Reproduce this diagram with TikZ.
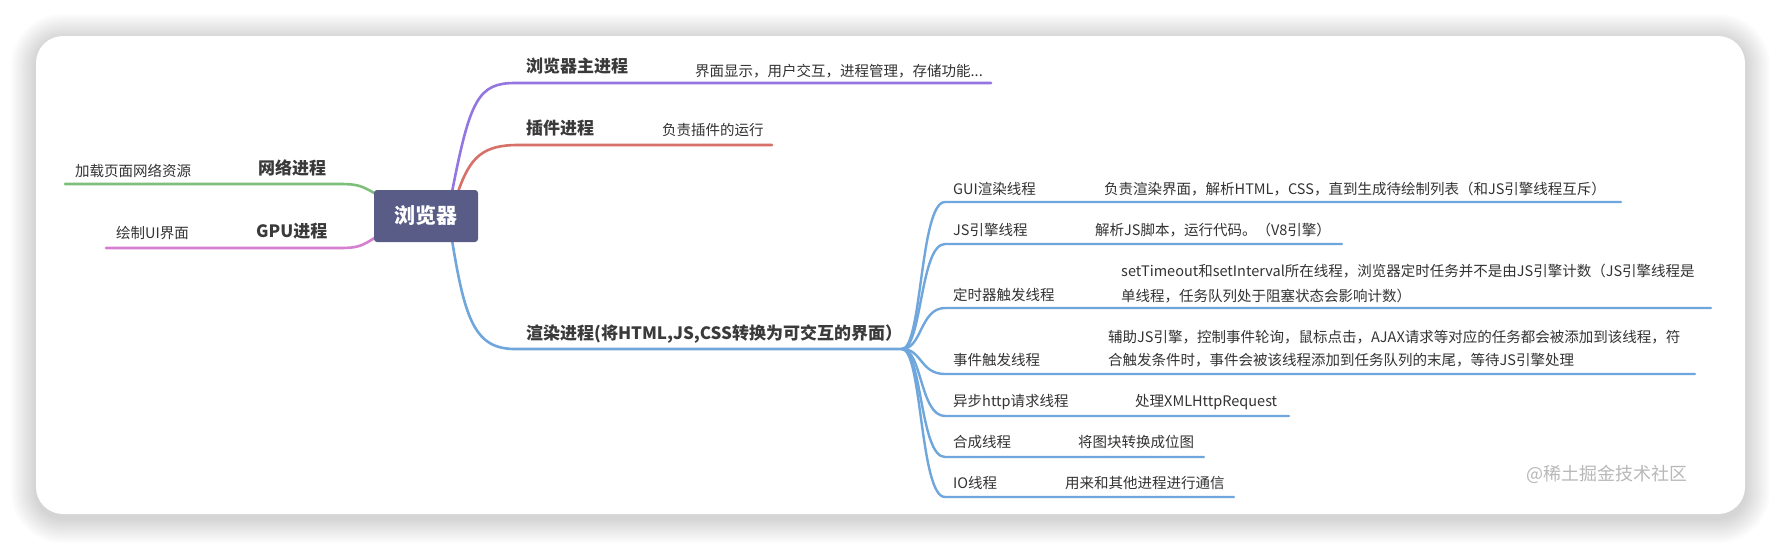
\documentclass[tikz,border=0pt]{standalone}
\usepackage{fontspec}
\setmainfont{Noto Sans CJK SC}
\definecolor{cpurple}{HTML}{9376E2}
\definecolor{cred}{HTML}{D67068}
\definecolor{cgreen}{HTML}{7DC07A}
\definecolor{cpink}{HTML}{D67FD0}
\definecolor{cblue}{HTML}{6FA6DC}
\definecolor{rootfill}{HTML}{585C87}
\definecolor{txtdark}{HTML}{333333}
\definecolor{mainlbltxt}{HTML}{3A3A3A}
\definecolor{wmark}{HTML}{B8B8B8}
\begin{document}
\begin{tikzpicture}[x=1pt,y=-1pt,
  mainlbl/.style={anchor=base west, inner sep=0pt, font=\fontsize{17}{20}\selectfont\bfseries, text=mainlbltxt},
  desc/.style={anchor=base west, inner sep=0pt, font=\fontsize{14.5}{18}\selectfont, text=txtdark},
  rootnode/.style={fill=rootfill, rounded corners=3pt, minimum width=104pt, minimum height=52pt, inner sep=0pt, text=white, font=\fontsize{21}{24}\selectfont\bfseries},
  branch/.style={line width=2.6pt, line cap=round},
  sub/.style={line width=2.4pt, line cap=round, cblue}]
\useasboundingbox (0,0) rectangle (1782,550);
\fill[white] (0,0) rectangle (1782,550);
% shadow
\foreach \i in {1,...,14}{
  \pgfmathsetmacro{\r}{27+\i*1.8}
  \fill[black, opacity=0.012, rounded corners=\r pt] (36-\i*1.8, 39-\i*1.8) rectangle (1745+\i*1.8, 518+\i*1.8);
}
\fill[white, rounded corners=27pt] (36,36) rectangle (1745,514);

% coordinates
\coordinate (pm-s) at (452,192); \coordinate (pm-a) at (515,83);  \coordinate (pm-e) at (991,83);
\coordinate (pl-s) at (458,192); \coordinate (pl-a) at (518,145); \coordinate (pl-e) at (772,145);
\coordinate (nw-s) at (376,194); \coordinate (nw-a) at (340,184); \coordinate (nw-e) at (65,184);
\coordinate (gp-s) at (376,237); \coordinate (gp-a) at (340,248); \coordinate (gp-e) at (106,248);
\coordinate (rd-s) at (452,240); \coordinate (rd-a) at (515,349); \coordinate (hub) at (902,349);
\coordinate (t1-a) at (945,202); \coordinate (t1-e) at (1621,202);
\coordinate (t2-a) at (945,244); \coordinate (t2-e) at (1342,244);
\coordinate (t3-a) at (945,308); \coordinate (t3-e) at (1711,308);
\coordinate (t4-a) at (945,374); \coordinate (t4-e) at (1695,374);
\coordinate (t5-a) at (945,416); \coordinate (t5-e) at (1289,416);
\coordinate (t6-a) at (945,457); \coordinate (t6-e) at (1204,457);
\coordinate (t7-a) at (945,497); \coordinate (t7-e) at (1234,497);

% branches
\draw[branch, cpurple] (pm-s) .. controls +(18,-92) and +(-37,0) .. (pm-a) -- (pm-e);
\draw[branch, cred] (pl-s) .. controls +(12,-35) and +(-35,0) .. (pl-a) -- (pl-e);
\draw[branch, cgreen] (nw-s) .. controls +(-14,-8) and +(18,0) .. (nw-a) -- (nw-e);
\draw[branch, cpink] (gp-s) .. controls +(-14,9) and +(18,0) .. (gp-a) -- (gp-e);
\draw[branch, cblue] (rd-s) .. controls +(13,80) and +(-40,0) .. (rd-a) -- (hub);
\foreach \k in {1,...,7}{
  \draw[sub] (hub) .. controls +(20,0) and +(-25,0) .. (t\k-a) -- (t\k-e);
}

% root
\node[rootnode] (root) at (426,216) {浏览器};

% main labels
\node[mainlbl] (pmain) at (526,72) {浏览器主进程};
\node[mainlbl] (plugin) at (526,134) {插件进程};
\node[mainlbl] (render) at (526,339) {渲染进程(将HTML,JS,CSS转换为可交互的界面）};
\node[mainlbl] (net) at (258,174) {网络进程};
\node[mainlbl] (gpu) at (256,237) {GPU进程};

% descriptions
\node[desc] (pmaind) at (695,76) {界面显示，用户交互，进程管理，存储功能...};
\node[desc] (plugind) at (662,135) {负责插件的运行};
\node[desc] (netd) at (75,176) {加载页面网络资源};
\node[desc] (gpud) at (116,238) {绘制UI界面};

% threads
\node[desc] (t1) at (953,194) {GUI渲染线程};
\node[desc] (t2) at (953,235) {JS引擎线程};
\node[desc] (t3) at (953,300) {定时器触发线程};
\node[desc] (t4) at (953,365) {事件触发线程};
\node[desc] (t5) at (953,406) {异步http请求线程};
\node[desc] (t6) at (953,447) {合成线程};
\node[desc] (t7) at (953,488) {IO线程};

\node[desc] (t1d) at (1104,194) {负责渲染界面，解析HTML，CSS，直到生成待绘制列表（和JS引擎线程互斥）};
\node[desc] (t2d) at (1095,235) {解析JS脚本，运行代码。（V8引擎）};
\node[desc] (t3d) at (1121,276) {setTimeout和setInterval所在线程，浏览器定时任务并不是由JS引擎计数（JS引擎线程是};
\node[desc] (t3e) at (1121,301) {单线程，任务队列处于阻塞状态会影响计数）};
\node[desc] (t4d) at (1108,342) {辅助JS引擎，控制事件轮询，鼠标点击，AJAX请求等对应的任务都会被添加到该线程，符};
\node[desc] (t4e) at (1108,365) {合触发条件时，事件会被该线程添加到任务队列的末尾，等待JS引擎处理};
\node[desc] (t5d) at (1135,406) {处理XMLHttpRequest};
\node[desc] (t6d) at (1078,447) {将图块转换成位图};
\node[desc] (t7d) at (1065,488) {用来和其他进程进行通信};

\node[anchor=base west, inner sep=0pt, font=\fontsize{18}{22}\selectfont, text=wmark] (wm) at (1526,480) {@稀土掘金技术社区};
\end{tikzpicture}
\end{document}
